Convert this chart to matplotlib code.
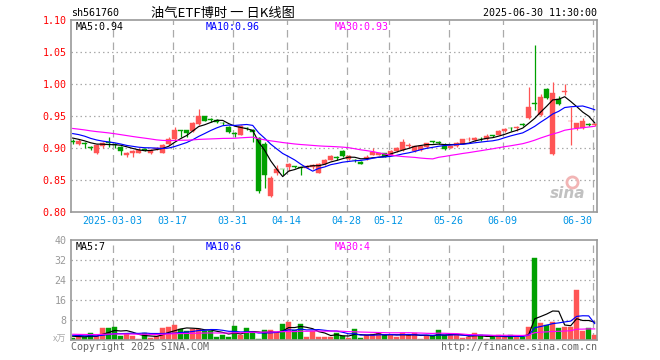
import matplotlib
matplotlib.use('Agg')
import matplotlib.pyplot as plt
from matplotlib.transforms import blended_transform_factory
import numpy as np
import pandas as pd

# ---------------- data ----------------
dates = ['02-20','02-21','02-24','02-25','02-26','02-27','02-28','03-03','03-04','03-05',
         '03-06','03-07','03-10','03-11','03-12','03-13','03-14','03-17','03-18','03-19',
         '03-20','03-21','03-24','03-25','03-26','03-27','03-28','03-31','04-01','04-02',
         '04-03','04-07','04-08','04-09','04-10','04-11','04-14','04-15','04-16','04-17',
         '04-18','04-21','04-22','04-23','04-24','04-25','04-28','04-29','04-30','05-06',
         '05-07','05-08','05-09','05-12','05-13','05-14','05-15','05-16','05-19','05-20',
         '05-21','05-22','05-23','05-26','05-27','05-28','05-29','05-30','06-03','06-04',
         '06-05','06-06','06-09','06-10','06-11','06-12','06-13','06-16','06-17','06-18',
         '06-19','06-20','06-23','06-24','06-25','06-26','06-27','06-30']

opens = [0.911,0.907,0.909,0.901,0.892,0.904,0.910,0.907,0.902,0.890,
         0.892,0.893,0.899,0.892,0.899,0.893,0.906,0.914,0.928,0.928,
         0.927,0.938,0.950,0.946,0.945,0.940,0.934,0.924,0.921,0.932,
         0.929,0.916,0.907,0.826,0.861,0.868,0.871,0.872,0.871,0.870,
         0.871,0.862,0.875,0.882,0.886,0.896,0.883,0.882,0.879,0.885,
         0.890,0.890,0.892,0.890,0.896,0.897,0.904,0.896,0.897,0.902,
         0.911,0.910,0.903,0.901,0.903,0.907,0.914,0.913,0.915,0.914,
         0.920,0.921,0.927,0.932,0.932,0.938,0.948,0.971,0.952,0.993,
         0.891,0.977,0.988,0.942,0.931,0.931,0.938,0.936]

closes = [0.910,0.912,0.906,0.900,0.905,0.909,0.909,0.905,0.896,0.893,
          0.896,0.898,0.898,0.898,0.900,0.905,0.915,0.929,0.927,0.924,
          0.940,0.950,0.943,0.945,0.941,0.939,0.925,0.923,0.935,0.931,
          0.926,0.833,0.859,0.853,0.867,0.867,0.876,0.871,0.870,0.873,
          0.874,0.876,0.882,0.888,0.885,0.888,0.888,0.881,0.876,0.886,
          0.895,0.892,0.887,0.896,0.901,0.910,0.905,0.903,0.903,0.908,
          0.910,0.909,0.899,0.903,0.909,0.914,0.915,0.916,0.914,0.919,
          0.919,0.927,0.930,0.931,0.933,0.937,0.964,0.969,0.980,0.979,
          0.986,0.969,0.989,0.943,0.939,0.943,0.937,0.937]

highs = [0.914,0.914,0.910,0.904,0.906,0.910,0.917,0.909,0.903,0.894,
         0.897,0.900,0.900,0.899,0.902,0.906,0.917,0.933,0.929,0.929,
         0.941,0.961,0.951,0.947,0.946,0.941,0.935,0.925,0.936,0.933,
         0.930,0.917,0.910,0.856,0.874,0.868,0.877,0.873,0.871,0.874,
         0.875,0.877,0.883,0.889,0.888,0.897,0.889,0.883,0.880,0.889,
         0.900,0.893,0.893,0.897,0.902,0.914,0.909,0.904,0.904,0.909,
         0.912,0.911,0.909,0.904,0.910,0.915,0.917,0.917,0.917,0.923,
         0.921,0.928,0.931,0.934,0.935,0.939,0.996,1.061,0.985,0.995,
         1.004,0.981,1.000,0.965,0.940,0.947,0.939,0.939]

lows = [0.906,0.905,0.901,0.897,0.891,0.900,0.902,0.900,0.890,0.887,
        0.887,0.892,0.896,0.891,0.898,0.892,0.905,0.913,0.918,0.918,
        0.926,0.937,0.942,0.941,0.940,0.937,0.924,0.917,0.920,0.929,
        0.910,0.830,0.838,0.824,0.859,0.858,0.865,0.869,0.858,0.869,
        0.868,0.861,0.874,0.881,0.882,0.887,0.882,0.878,0.875,0.881,
        0.889,0.889,0.886,0.889,0.895,0.896,0.900,0.895,0.896,0.900,
        0.908,0.907,0.898,0.900,0.902,0.906,0.912,0.912,0.912,0.913,
        0.917,0.920,0.926,0.927,0.927,0.935,0.946,0.960,0.950,0.977,
        0.889,0.967,0.984,0.905,0.929,0.930,0.935,0.935]

volumes = [0.7,1.3,1.1,2.7,1.6,4.8,4.8,5.2,1.6,2.4,
           1.6,0.5,2.7,0.8,1.6,4.8,5.3,6.0,4.3,3.7,
           4.3,4.5,3.7,3.7,1.3,2.0,1.3,5.6,1.9,4.8,
           3.3,0.4,4.0,4.0,3.3,6.4,7.2,4.0,6.4,1.3,
           3.7,1.3,1.3,1.3,2.9,1.6,0.9,4.5,0.9,1.9,
           2.4,2.7,2.0,1.9,1.3,2.7,1.9,2.7,0.5,1.6,
           1.6,4.0,1.9,1.9,1.9,0.9,1.1,2.7,1.9,0.5,
           1.1,2.0,1.3,2.0,1.1,1.1,5.3,32.8,6.7,6.0,
           7.2,4.8,5.3,5.3,20.0,3.6,4.8,2.0]

# closes / volumes before the visible window (estimated from MA starting levels)
pre_closes = [0.945,0.942,0.944,0.940,0.938,0.941,0.943,0.939,0.936,0.940,
              0.938,0.935,0.937,0.942,0.930,0.925,0.921,0.918,0.922,0.924,
              0.928,0.931,0.934,0.930,0.927,0.922,0.918,0.915,0.915]
pre_volumes = [2.8,2.2,3.1,2.4,1.9,2.6,3.0,2.3,2.1,2.7,
               2.5,2.9,2.0,2.4,2.6,2.2,2.8,2.5,2.3,2.7,
               2.6,2.0,2.5,2.1,2.3,1.9,1.5,1.8,1.6]

ma_periods = [5, 10, 30]
ma_colors = ['black', '#0000FF', '#FF00FF']
price_ma_labels = ['MA5:0.94', 'MA10:0.96', 'MA30:0.93']
vol_ma_labels = ['MA5:7', 'MA10:6', 'MA30:4']

tick_dates = ['03-03','03-17','03-31','04-14','04-28','05-12','05-26','06-09','06-30']
tick_labels = ['2025-03-03','03-17','03-31','04-14','04-28','05-12','05-26','06-09','06-30']
price_ticks = [0.80, 0.85, 0.90, 0.95, 1.00, 1.05, 1.10]
vol_ticks = [8, 16, 24, 32, 40]

title = '油气ETF博时 一 日K线图'
code = 'sh561760'
timestamp = '2025-06-30 11:30:00'

# ---------------- style ----------------
UP = '#FF5555'
DOWN = '#00A000'
GRID = '#AAAAAA'
FRAME = '#999999'
MONO = 'DejaVu Sans Mono'
CJK = ['Noto Sans CJK SC', 'DejaVu Sans']
FS = 7.2

n = len(closes)
x = np.arange(n)
o = np.array(opens); c = np.array(closes); h = np.array(highs); l = np.array(lows)
v = np.array(volumes)
colors = [UP if cc >= oo else DOWN for oo, cc in zip(o, c)]

def moving_averages(pre, vals):
    full = pd.Series(list(pre) + list(vals))
    return [full.rolling(p).mean().values[len(pre):] for p in ma_periods]

price_mas = moving_averages(pre_closes, closes)
vol_mas = moving_averages(pre_volumes, volumes)

W, H = 660, 360
fig = plt.figure(figsize=(W/100, H/100), dpi=100)
fig.patch.set_facecolor('white')

L, R = 70.7, 596.7
ax1 = fig.add_axes([L/W, 1-212.3/H, (R-L)/W, 192/H])
ax2 = fig.add_axes([L/W, 1-340/H, (R-L)/W, 100/H])

xl = (-0.333, n - 1 + 0.333)
grid_x = [dates.index(d) - 0.35 for d in tick_dates]

for ax in (ax1, ax2):
    ax.set_xlim(*xl)
    for s in ax.spines.values():
        s.set_color(FRAME); s.set_linewidth(1.2)
    for gx in grid_x:
        ax.axvline(gx, color=GRID, lw=0.9, ls=(0, (6, 4)), zorder=0)
    ax.tick_params(length=0)

# ---- price panel ----
ax1.set_ylim(price_ticks[0], price_ticks[-1])
for yv in price_ticks[1:-1]:
    ax1.axhline(yv, color=GRID, lw=0.9, ls=(0, (1.2, 2.4)), zorder=0)
ax1.vlines(x, l, h, colors=colors, lw=0.9, zorder=2)
body_bottom = np.minimum(o, c)
body_h = np.maximum(np.abs(c - o), 0.0013)
ax1.bar(x, body_h, bottom=body_bottom, width=0.82, color=colors, edgecolor=colors,
        linewidth=0.3, zorder=3)
for ma, col in zip(price_mas, ma_colors):
    ax1.plot(x, ma, color=col, lw=0.85, zorder=4)

ax1.set_yticks(price_ticks)
ax1.set_yticklabels(['%.2f' % t for t in price_ticks], color='#FF0000',
                    fontfamily=MONO, fontsize=FS)
ax1.tick_params(axis='y', pad=3)
ax1.set_xticks(grid_x)
ax1.set_xticklabels(tick_labels, color='#0095E6', fontfamily=MONO, fontsize=FS)
ax1.tick_params(axis='x', pad=3)
lbls = ax1.get_xticklabels()
lbls[-1].set_horizontalalignment('right')
lbls[-1].set_x(xl[1])

trans1 = ax1.transAxes
for txt, col, xp in zip(price_ma_labels, ma_colors, [0.010, 0.256, 0.502]):
    ax1.text(xp, 0.992, txt, color=col, fontfamily=MONO, fontsize=FS,
             va='top', ha='left', transform=trans1, zorder=6)

# watermark
ax1.text(0.945, 0.06, 'sina', color='#BBBBBB', fontsize=11, fontweight='bold',
         fontstyle='italic', fontfamily='DejaVu Sans', ha='center', va='bottom',
         transform=trans1, zorder=1, alpha=0.9)
ax1.plot([0.953], [0.16], marker='o', ms=8, mfc='none', mec='#F2B5B5', mew=2.0,
         transform=trans1, zorder=1)

# ---- volume panel ----
ax2.set_ylim(0, vol_ticks[-1])
for yv in vol_ticks[:-1]:
    ax2.axhline(yv, color=GRID, lw=0.9, ls=(0, (1.2, 2.4)), zorder=0)
ax2.bar(x, v, width=0.82, color=colors, edgecolor=colors, linewidth=0.3, zorder=2)
for ma, col in zip(vol_mas, ma_colors):
    ax2.plot(x, ma, color=col, lw=0.85, zorder=4)
ax2.set_yticks(vol_ticks)
ax2.set_yticklabels([str(t) for t in vol_ticks], color='#999999',
                    fontfamily=MONO, fontsize=FS)
ax2.tick_params(axis='y', pad=3)
ax2.set_xticks([])
trans2 = ax2.transAxes
for txt, col, xp in zip(vol_ma_labels, ma_colors, [0.010, 0.256, 0.502]):
    ax2.text(xp, 0.985, txt, color=col, fontfamily=MONO, fontsize=FS,
             va='top', ha='left', transform=trans2, zorder=6)

# ---- figure texts ----
fig.text(L/W, 1-13/H, code, fontfamily=MONO, fontsize=FS, color='black',
         ha='left', va='center')
fig.text(223/W, 1-13/H, title, family=CJK, fontsize=9.5, color='black',
         ha='center', va='center')
fig.text(R/W, 1-13/H, timestamp, fontfamily=MONO, fontsize=FS, color='black',
         ha='right', va='center')
fig.text(L/W, 1-347/H, 'Copyright 2025 SINA.COM', fontfamily=MONO, fontsize=FS,
         color='#666666', ha='left', va='center')
fig.text(R/W, 1-347/H, 'http://finance.sina.com.cn', fontfamily=MONO, fontsize=FS,
         color='#666666', ha='right', va='center')
fig.text(66/W, 1-339/H, 'x万', family=CJK, fontsize=6.5, color='#AAAAAA',
         ha='right', va='center')

fig.savefig('out.png', dpi=100)
